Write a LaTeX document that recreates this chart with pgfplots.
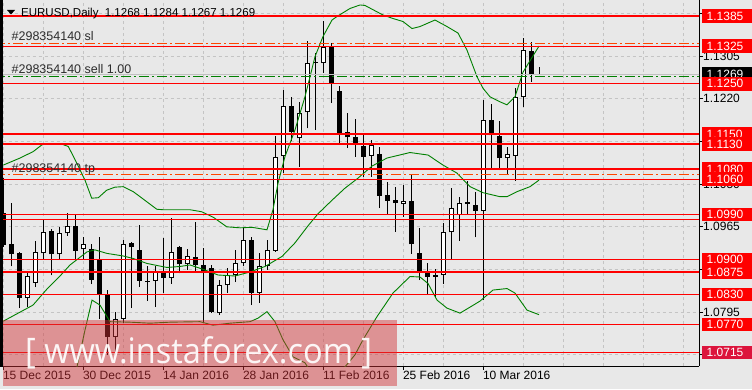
\documentclass[border=0pt]{standalone}
\usepackage{pgfplots}
\pgfplotsset{compat=1.18}
\usepackage{pgfplotstable}
\usepackage{graphicx}
\usepackage{fontspec}
\setmainfont{Liberation Sans}
\newfontfamily\wmfont{Open Sans}
\definecolor{bg}{RGB}{232,232,232}
\definecolor{gridc}{RGB}{196,196,196}
\definecolor{bandg}{RGB}{0,128,0}
\definecolor{slc}{RGB}{255,69,0}
\definecolor{wmc}{RGB}{210,50,55}
\definecolor{crim}{RGB}{220,20,60}
\definecolor{pricel}{RGB}{192,192,192}
\definecolor{txtc}{RGB}{45,45,45}

\pgfplotstableread{
i L H
0 1.0925 1.1062
1 1.0886 1.1012
2 1.0803 1.0914
3 1.0805 1.0876
4 1.0845 1.0937
5 1.0901 1.0981
6 1.0868 1.0961
7 1.0901 1.0965
8 1.0947 1.0992
9 1.0899 1.0989
10 1.0899 1.0945
11 1.0851 1.0931
12 1.0781 1.0945
13 1.0710 1.0840
14 1.0710 1.0795
15 1.0773 1.0939
16 1.0803 1.0935
17 1.0846 1.0969
18 1.0818 1.0886
19 1.0805 1.0886
20 1.0834 1.0942
21 1.0852 1.0983
22 1.0872 1.0927
23 1.0879 1.0920
24 1.0876 1.0975
25 1.0773 1.0922
26 1.0793 1.0889
27 1.0789 1.0859
28 1.0834 1.0883
29 1.0855 1.0919
30 1.0886 1.0965
31 1.0809 1.0945
32 1.0814 1.0912
33 1.0879 1.0939
34 1.0915 1.1145
35 1.1072 1.1238
36 1.1135 1.1223
37 1.1085 1.1214
38 1.1161 1.1336
39 1.1158 1.1311
40 1.1272 1.1376
41 1.1212 1.1332
42 1.1128 1.1246
43 1.1123 1.1191
44 1.1105 1.1179
45 1.1065 1.1148
46 1.1065 1.1138
47 1.1002 1.1125
48 1.0989 1.1055
49 1.0955 1.1045
50 1.0985 1.1048
51 1.0911 1.1068
52 1.0859 1.0962
53 1.0831 1.0892
54 1.0826 1.0880
55 1.0852 1.0972
56 1.0900 1.1042
57 1.0937 1.1025
58 1.0990 1.1056
59 1.0944 1.1034
60 1.0819 1.1218
61 1.1082 1.1210
62 1.1078 1.1176
63 1.1070 1.1125
64 1.1057 1.1241
65 1.1204 1.1341
66 1.1254 1.1334
67 1.1267 1.1284
}\wicks

\pgfplotstableread{
i B T
0 1.0929 1.0993
1 1.0910 1.0931
2 1.0824 1.0913
6 1.0910 1.0957
9 1.0917 1.0967
11 1.0860 1.0921
12 1.0831 1.0900
13 1.0746 1.0830
16 1.0924 1.0933
17 1.0858 1.0919
18 1.0855 1.0857
20 1.0864 1.0872
22 1.0890 1.0924
24 1.0889 1.0905
25 1.0872 1.0888
26 1.0796 1.0883
31 1.0833 1.0939
36 1.1154 1.1206
39 1.1291 1.1293
41 1.1252 1.1324
42 1.1152 1.1236
43 1.1143 1.1153
44 1.1128 1.1143
45 1.1105 1.1126
47 1.1027 1.1111
48 1.1017 1.1028
49 1.1012 1.1018
51 1.0930 1.1016
52 1.0872 1.0912
53 1.0866 1.0874
54 1.0866 1.0868
58 1.1010 1.1014
59 1.0997 1.1009
61 1.1147 1.1178
62 1.1102 1.1146
66 1.1268 1.1315
67 1.1268 1.1270
}\blackbodies

\pgfplotstableread{
i B T
3 1.0824 1.0867
4 1.0854 1.0914
5 1.0912 1.0954
7 1.0910 1.0952
8 1.0952 1.0967
10 1.0920 1.0931
14 1.0745 1.0781
15 1.0781 1.0931
19 1.0858 1.0877
21 1.0864 1.0914
23 1.0890 1.0906
27 1.0793 1.0849
28 1.0849 1.0869
29 1.0869 1.0892
30 1.0892 1.0939
32 1.0833 1.0886
33 1.0886 1.0919
34 1.0917 1.1105
35 1.1106 1.1206
37 1.1141 1.1191
38 1.1193 1.1291
40 1.1291 1.1323
46 1.1107 1.1129
50 1.1010 1.1016
55 1.0869 1.0955
56 1.0954 1.1003
57 1.0989 1.1012
60 1.0997 1.1178
63 1.1102 1.1110
64 1.1107 1.1223
65 1.1223 1.1317
}\whitebodies

\tikzset{lbl/.style={anchor=west, xshift=2.5pt, text=white, inner xsep=5pt, inner ysep=0pt,
  minimum height=13.5pt, text width=46pt, align=left, font=\fontsize{12}{14}\selectfont}}

\begin{document}
\begin{tikzpicture}
\useasboundingbox (0,0) rectangle (752pt,389pt);
\fill[bg] (0,0) rectangle (752pt,389pt);
\begin{axis}[
  at={(2.5pt,23pt)}, anchor=south west,
  scale only axis, width=696.5pt, height=366pt,
  xmin=-0.1, xmax=86.9625, ymin=1.068769, ymax=1.141688,
  axis x line*=bottom, axis y line*=right,
  axis line style={black, line width=1pt},
  clip mode=individual,
  xtick={0,10,20,30,40,50,60},
  xticklabels={15 Dec 2015,30 Dec 2015,14 Jan 2016,28 Jan 2016,11 Feb 2016,25 Feb 2016,10 Mar 2016},
  extra x ticks={5,15,25,35,45,55,65,70,75,80,85},
  extra x tick labels={,,,,,,,,,,},
  extra x tick style={major tick length=0pt},
  ytick={1.0710,1.0795,1.0880,1.0965,1.1050,1.1135,1.1220,1.1305,1.1390},
  yticklabels={,1.0795,,1.0965,1.1050,,1.1220,1.1305,},
  grid=major,
  major grid style={draw=gridc, dash pattern=on 3pt off 3pt, line width=1pt},
  tick align=outside, major tick length=4pt,
  tick style={black, line width=1pt},
  xticklabel style={anchor=north west, inner sep=0pt, font=\fontsize{12}{14}\selectfont, xshift=-0.5pt, yshift=-1pt},
  yticklabel style={anchor=west, inner sep=0pt, font=\fontsize{12}{14}\selectfont},
]
% wicks
\addplot[draw=none, mark=none, forget plot,
  error bars/.cd, y dir=plus, y explicit, error mark=none,
  error bar style={draw=black, line width=1pt, solid}]
  table[x=i, y=L, y error plus expr=\thisrow{H}-\thisrow{L}] {\wicks};
% black bodies
\addplot[draw=none, mark=none, forget plot,
  error bars/.cd, y dir=plus, y explicit, error mark=none,
  error bar style={draw=black, line width=5pt, solid}]
  table[x=i, y=B, y error plus expr=\thisrow{T}-\thisrow{B}] {\blackbodies};
% white bodies: outline then fill
\addplot[draw=none, mark=none, forget plot,
  error bars/.cd, y dir=plus, y explicit, error mark=none,
  error bar style={draw=black, line width=5pt, solid}]
  table[x=i, y=B, y error plus expr=\thisrow{T}-\thisrow{B}] {\whitebodies};
\addplot[draw=none, mark=none, forget plot,
  error bars/.cd, y dir=plus, y explicit, error mark=none,
  error bar style={draw=white, line width=3pt, solid}]
  table[x=i, y expr=\thisrow{B}+0.0002, y error plus expr=\thisrow{T}-\thisrow{B}-0.0004] {\whitebodies};

% Bollinger bands
\addplot[bandg, line width=0.9pt, forget plot] coordinates {
(0,1.1088) (2.09,1.1102) (3.75,1.1115) (4.8,1.1128) (5.43,1.1131) (7.09,1.1131) (8.13,1.1125) (9.18,1.1092) (10.21,1.1058) (11.05,1.1022) (11.88,1.1023) (12.93,1.1038) (13.96,1.1044) (15,1.1045) (16.25,1.1035) (17.93,1.1015) (19.18,1.1000) (20,1.0999) (23.34,1.0999) (24.8,1.0995) (26.25,1.0984) (27.93,1.0965) (29.59,1.0963) (31.09,1.0964) (32.96,1.0959) (33.71,1.0999) (34.34,1.1052) (35.21,1.1105) (36.46,1.1158) (37.71,1.1224) (38.96,1.1304) (39.96,1.1344) (41.09,1.1377) (41.71,1.1384) (43.34,1.1400) (44.59,1.1407) (45.21,1.1406) (47.46,1.1387) (48.71,1.1380) (49.96,1.1374) (51.09,1.1360) (52.09,1.1364) (53.96,1.1377) (55.46,1.1364) (56.84,1.1351) (57.96,1.1317) (59.21,1.1264) (59.96,1.1241) (60.84,1.1224) (62.09,1.1214) (62.96,1.1208) (63.96,1.1224) (64.96,1.1273) (66.96,1.1325)};
\addplot[bandg, line width=0.9pt, forget plot] coordinates {
(0,1.0777) (2.09,1.0795) (3.71,1.0809) (5.46,1.0841) (7.09,1.0867) (8.34,1.0889) (10.46,1.0915) (11.46,1.0919) (12.96,1.0912) (14.96,1.0907) (16.21,1.0902) (17.96,1.0892) (20.46,1.0884) (22.09,1.0886) (23.34,1.0889) (25.21,1.0879) (26.84,1.0869) (28.96,1.0867) (30.84,1.0875) (32.71,1.0886) (34.84,1.0906) (36.46,1.0933) (38.09,1.0967) (39.34,1.0991) (41.09,1.1018) (42.71,1.1042) (44.34,1.1062) (46.09,1.1086) (47.96,1.1102) (50.84,1.1113) (53.09,1.1108) (54.96,1.1088) (56.71,1.1072) (58.34,1.1045) (59.96,1.1033) (62.09,1.1025) (62.96,1.1025) (64.21,1.1035) (65.84,1.1045) (66.96,1.1058)};
\addplot[bandg, line width=0.9pt, forget plot] coordinates {
(0,1.0466) (2.09,1.0488) (3.75,1.0503) (5.43,1.0551) (7.09,1.0603) (8.34,1.0660) (9.21,1.0686) (10.21,1.0759) (11.09,1.0819) (12.09,1.0809) (13.34,1.0776) (15.84,1.0775) (18.34,1.0773) (20.84,1.0775) (24.59,1.0776) (26.21,1.0769) (28.34,1.0773) (30.84,1.0776) (31.84,1.0783) (32.96,1.0796) (33.96,1.0776) (34.96,1.0740) (36.21,1.0706) (37.71,1.0694) (38.96,1.0664) (39.96,1.0658) (41.09,1.0659) (42.71,1.0686) (43.96,1.0710) (44.96,1.0740) (46.71,1.0786) (48.71,1.0833) (50.84,1.0866) (52.09,1.0865) (53.09,1.0852) (54.21,1.0819) (55.46,1.0803) (57.09,1.0793) (59.59,1.0817) (61.21,1.0839) (62.96,1.0842) (63.96,1.0833) (65.46,1.0799) (66.96,1.0790)};

% current price line and trade lines
\addplot[pricel, line width=1pt, forget plot] coordinates {(-1,1.1269) (90,1.1269)};
\addplot[bandg, line width=1pt, dash pattern=on 10pt off 3pt on 2pt off 3pt, forget plot] coordinates {(-1,1.1265) (90,1.1265)};
\addplot[slc, line width=1pt, dash pattern=on 10pt off 3pt on 2pt off 3pt, forget plot] coordinates {(-1,1.1330) (90,1.1330)};
\addplot[slc, line width=1pt, dash pattern=on 10pt off 3pt on 2pt off 3pt, forget plot] coordinates {(-1,1.1069) (90,1.1069)};

% horizontal levels
\pgfplotsinvokeforeach{1.1385,1.1325,1.1250,1.1150,1.1130,1.1080,1.1060,1.0990,1.0980,1.0900,1.0875,1.0830,1.0770,1.0715}{
  \addplot[red, line width=1.2pt, forget plot] coordinates {(-1,#1) (90,#1)};
}

% price labels on the right
\node[lbl, fill=red] at ({rel axis cs:1,0}|-{axis cs:0,1.1385}) {1.1385};
\node[lbl, fill=red] at ({rel axis cs:1,0}|-{axis cs:0,1.1325}) {1.1325};
\node[lbl, fill=black] at ({rel axis cs:1,0}|-{axis cs:0,1.1269}) {1.1269};
\node[lbl, fill=red] at ({rel axis cs:1,0}|-{axis cs:0,1.1250}) {1.1250};
\node[lbl, fill=red] at ({rel axis cs:1,0}|-{axis cs:0,1.1150}) {1.1150};
\node[lbl, fill=red] at ({rel axis cs:1,0}|-{axis cs:0,1.1130}) {1.1130};
\node[lbl, fill=red] at ({rel axis cs:1,0}|-{axis cs:0,1.1080}) {1.1080};
\node[lbl, fill=red] at ({rel axis cs:1,0}|-{axis cs:0,1.1060}) {1.1060};
\node[lbl, fill=red] at ({rel axis cs:1,0}|-{axis cs:0,1.0990}) {1.0990};
\node[lbl, fill=red] at ({rel axis cs:1,0}|-{axis cs:0,1.0900}) {1.0900};
\node[lbl, fill=red] at ({rel axis cs:1,0}|-{axis cs:0,1.0875}) {1.0875};
\node[lbl, fill=red] at ({rel axis cs:1,0}|-{axis cs:0,1.0830}) {1.0830};
\node[lbl, fill=red] at ({rel axis cs:1,0}|-{axis cs:0,1.0770}) {1.0770};
\node[lbl, fill=crim] at ({rel axis cs:1,0}|-{axis cs:0,1.0715}) {1.0715};
\end{axis}

% left border
\draw[black, line width=2.7pt] (1.35pt,22.5pt) -- (1.35pt,389pt);

% header
\fill[black] (7pt,379pt) -- (15pt,379pt) -- (11pt,374.5pt) -- cycle;
\node[anchor=base west, inner sep=0pt, font=\fontsize{11.5}{13}\selectfont] at (21pt,372.5pt)
  {EURUSD,Daily\ \ 1.1268 1.1284 1.1267 1.1269};

% trade labels
\node[anchor=base west, inner sep=0pt, text=txtc, font=\fontsize{12.5}{14}\selectfont] at (11.5pt,348.3pt) {\#298354140 sl};
\node[anchor=base west, inner sep=0pt, text=txtc, font=\fontsize{12.5}{14}\selectfont] at (11.5pt,315.7pt) {\#298354140 sell 1.00};
\node[anchor=base west, inner sep=0pt, text=txtc, font=\fontsize{12.5}{14}\selectfont] at (11.5pt,216.7pt) {\#298354140 tp};

% watermark
\fill[wmc, fill opacity=0.47] (2.7pt,3pt) rectangle (397pt,69pt);
\node[anchor=north west, inner sep=0pt, text=white, opacity=0.92] at (25pt,53pt)
  {\resizebox*{347pt}{32.5pt}{\wmfont [ www.instaforex.com ]}};
\end{tikzpicture}
\end{document}
